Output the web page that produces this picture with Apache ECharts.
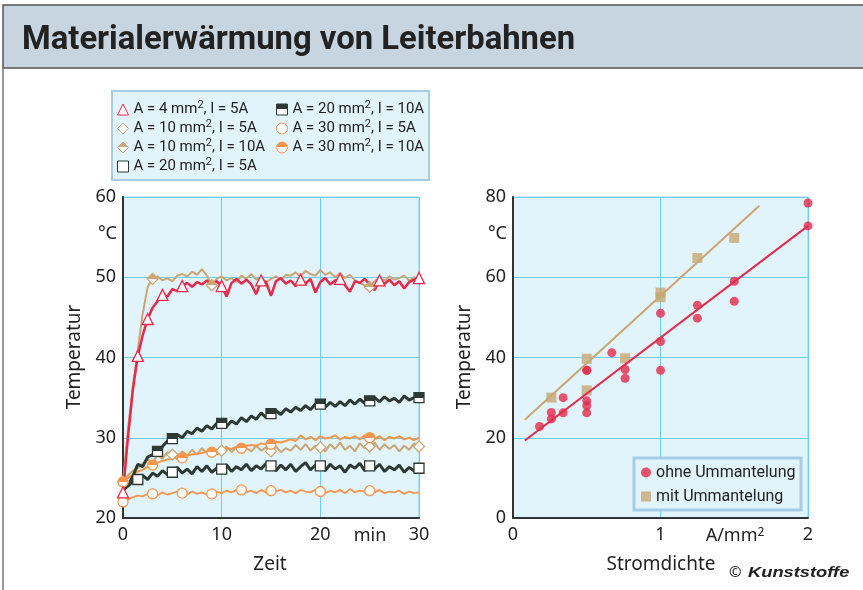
<!DOCTYPE html>
<html><head><meta charset="utf-8">
<script src="https://cdn.jsdelivr.net/npm/echarts@6/dist/echarts.min.js"></script>
<style>html,body{margin:0;padding:0;background:#fff}#c{width:863px;height:590px}</style>
</head><body><div id="c"></div>
<script>
// ---------- data: left chart (time in min, temperature in °C) ----------
const times = [0,0.5,1,1.5,2,2.5,3,3.5,4,4.5,5,5.5,6,6.5,7,7.5,8,8.5,9,9.5,10,10.5,11,11.5,12,12.5,13,13.5,14,14.5,15,15.5,16,16.5,17,17.5,18,18.5,19,19.5,20,20.5,21,21.5,22,22.5,23,23.5,24,24.5,25,25.5,26,26.5,27,27.5,28,28.5,29,29.5,30];

const tA4I5 = [23.2,30.0,36.0,40.2,42.8,44.8,46.2,47.0,47.8,47.6,48.5,48.3,48.9,49.3,48.8,49.4,49.1,49.6,49.0,49.5,48.9,47.6,49.3,49.8,49.2,49.7,49.1,47.9,49.6,49.4,47.7,49.5,49.9,49.2,49.6,48.9,49.7,49.2,49.8,48.1,49.4,49.9,49.1,49.6,49.8,49.0,48.2,49.5,49.3,49.8,49.1,48.4,49.6,49.2,49.7,49.0,49.5,48.6,49.4,49.7,49.9];
const mA4I5 = [0,1.5,2.5,4,6,10,14,18,22,26,30];

const tA10I5 = [24.5,25.3,25.9,26.2,26.8,27.3,26.9,27.8,27.4,28.2,27.9,27.3,28.3,27.8,28.5,27.9,28.7,28.1,28.6,27.9,28.4,28.9,28.2,28.8,28.1,28.7,28.3,29.0,28.4,28.8,28.3,28.9,28.2,28.7,28.4,29.1,28.5,29.2,28.4,29.0,28.8,28.3,29.2,28.6,29.4,28.5,29.0,28.3,29.3,28.7,28.9,29.4,28.5,29.2,28.6,29.1,28.3,29.0,28.5,29.3,28.9];
const mA10I5 = [5,10,15,20,25,30];

const tA10I10 = [24.5,31.0,36.5,41.0,45.5,48.8,49.8,50.1,49.6,49.9,49.5,50.2,50.4,50.1,50.7,50.3,51.0,50.2,49.0,49.8,50.1,49.6,49.9,49.4,50.2,49.8,50.4,49.7,50.0,49.4,49.8,50.1,49.7,50.3,50.2,50.6,50.1,50.8,50.4,50.2,50.9,50.3,50.6,50.0,50.5,49.9,50.3,49.6,49.3,49.0,48.8,49.5,50.0,49.6,50.1,49.7,49.9,50.2,49.6,50.0,49.8];
const mA10I10 = [0,3,9,25];

const tA20I5 = [23.5,24.0,24.5,24.8,25.3,24.8,25.6,25.2,25.9,25.4,25.7,26.3,25.6,26.1,25.5,26.4,25.8,26.5,25.7,26.2,26.1,26.6,25.8,26.4,26.0,26.7,25.9,26.5,26.1,26.8,26.5,25.9,26.6,26.0,26.7,25.8,26.4,26.9,26.0,26.6,26.5,25.9,26.7,26.1,26.5,25.7,26.6,26.2,26.8,25.9,26.5,26.1,26.7,25.8,26.4,26.0,26.6,25.7,26.3,25.9,26.2];
const mA20I5 = [1.5,5,10,15,20,25,30];

const tA20I10 = [23.5,24.0,25.2,26.7,26.4,27.6,27.9,28.3,28.9,29.6,29.9,30.4,30.0,30.8,30.5,31.2,30.8,31.5,31.1,31.8,31.8,31.4,32.1,31.7,32.5,32.0,32.7,32.3,33.1,32.5,33.0,33.4,32.9,33.6,33.2,33.8,33.4,34.0,33.5,34.2,34.2,33.8,34.4,33.9,34.5,34.0,34.7,34.2,34.8,34.3,34.6,35.0,34.5,35.1,34.6,34.9,34.4,35.2,34.7,35.0,35.0];
const mA20I10 = [3.5,5,10,15,20,25,30];

const tA30I5 = [22.0,22.3,22.6,22.8,22.7,23.0,23.0,22.8,23.2,22.9,23.1,23.3,23.1,22.9,23.3,23.0,23.2,22.9,23.0,23.3,23.1,23.4,23.2,23.5,23.5,23.2,23.4,23.1,23.5,23.2,23.4,23.3,23.5,23.2,23.4,23.1,23.5,23.3,23.2,23.5,23.3,23.1,23.4,23.2,23.5,23.1,23.6,23.2,23.4,23.3,23.4,23.2,23.5,23.1,23.3,23.2,23.4,23.0,23.3,23.1,23.2];
const mA30I5 = [0,3,6,9,12,15,20,25];

const tA30I10 = [24.5,25.0,25.4,25.8,26.0,26.4,26.6,26.9,27.1,27.3,27.4,27.6,27.5,27.8,27.9,28.0,28.1,28.3,28.2,28.5,28.6,28.7,28.6,28.9,28.7,29.0,29.1,29.0,29.3,29.2,29.2,29.5,29.4,29.6,29.8,29.6,30.3,29.8,30.1,29.7,30.2,29.9,30.0,30.3,29.8,30.1,29.9,30.2,29.8,30.3,30.0,29.8,30.2,29.7,30.1,29.9,30.2,29.8,30.0,29.7,30.0];
const mA30I10 = [0,3,6,9,12,15,25];

// ---------- data: right chart (current density A/mm², temperature °C) ----------
const ohneX = [0.18,0.26,0.26,0.34,0.34,0.5,0.5,0.5,0.5,0.5,0.67,0.76,0.76,1.0,1.0,1.0,1.25,1.25,1.5,1.5,2.0,2.0];
const ohneY = [22.8,24.7,26.3,26.2,30.0,26.2,28.0,29.2,36.8,36.8,41.2,37.0,34.8,36.8,44.0,51.0,49.8,53.0,54.0,59.0,72.8,78.5];
const mitX = [0.26,0.5,0.5,0.76,1.0,1.0,1.25,1.5];
const mitY = [30.0,31.8,39.7,39.8,55.0,56.2,64.8,69.8];
const ohneFit = [[0.08,19.3],[2.0,72.8]];
const mitFit = [[0.08,24.5],[1.67,77.8]];

// ---------- tick labels / names ----------
const leftXTicks = [0,10,20,30];
const leftYTicks = [20,30,40,50,60];
const rightXTicks = [0,1,2];
const rightYTicks = [0,20,40,60,80];
const names = ['A = 4 mm², I = 5A','A = 10 mm², I = 5A','A = 10 mm², I = 10A','A = 20 mm², I = 5A','A = 20 mm², I = 10A','A = 30 mm², I = 5A','A = 30 mm², I = 10A'];

const RED = '#e6294b', TAN = '#c9a673', DARK = '#2d3a33', ORANGE = '#f5964f';
const FONT = '"Noto Sans", sans-serif';
const NARROW = '"Roboto", sans-serif';

function half(c){
  return {type:'linear',x:0,y:0,x2:0,y2:1,colorStops:[{offset:0,color:c},{offset:0.5,color:c},{offset:0.5,color:'#fff'},{offset:1,color:'#fff'}]};
}
function lineData(vals, marks){
  return times.map((t,i)=> marks.indexOf(t) >= 0 ? {value:[t, vals[i]]} : {value:[t, vals[i]], symbol:'none'});
}
function lineSeries(name, vals, marks, color, sym, fill, size, width){
  return {
    name, type:'line', xAxisIndex:0, yAxisIndex:0,
    data: lineData(vals, marks),
    symbol: sym, symbolSize: size, showAllSymbol: true,
    lineStyle:{color, width},
    itemStyle:{color: fill, borderColor: color, borderWidth: 1.3},
    emphasis:{disabled:true}, animation:false
  };
}

const chart = echarts.init(document.getElementById('c'), null, {renderer:'canvas'});

const legendText = {
  fontFamily: NARROW, fontSize: 15, color:'#222', lineHeight: 19,
  rich: { s: { fontFamily: NARROW, fontSize: 11, lineHeight: 11, verticalAlign: 'top', color:'#222' } }
};
const legendFmt = n => n.replace('²', '{s|2}');

const axisLab = {fontFamily: FONT, fontSize: 18, color:'#222'};
const TXT = '19px "Noto Sans", sans-serif';

const option = {
  animation:false,
  backgroundColor:'#fff',
  grid:[
    {left:123, top:197, width:296, height:321, show:true, backgroundColor:'#e1f3fb', borderColor:'#8fd4f2', borderWidth:1},
    {left:513, top:197, width:295, height:321, show:true, backgroundColor:'#e1f3fb', borderColor:'#8fd4f2', borderWidth:1}
  ],
  xAxis:[
    {gridIndex:0, type:'value', min:0, max:30, interval:10,
     axisLine:{show:true, onZero:false, lineStyle:{color:'#333', width:2}}, axisTick:{show:false},
     axisLabel:Object.assign({margin:8, formatter:v=>leftXTicks.indexOf(v)>=0?String(v):''}, axisLab),
     splitLine:{show:true, lineStyle:{color:'#6fcdf0', width:1}}},
    {gridIndex:1, type:'value', min:0, max:2, interval:1,
     axisLine:{show:true, onZero:false, lineStyle:{color:'#333', width:2}}, axisTick:{show:false},
     axisLabel:Object.assign({margin:8, formatter:v=>rightXTicks.indexOf(v)>=0?String(v):''}, axisLab),
     splitLine:{show:true, lineStyle:{color:'#6fcdf0', width:1}}}
  ],
  yAxis:[
    {gridIndex:0, type:'value', min:20, max:60, interval:10,
     axisLine:{show:true, onZero:false, lineStyle:{color:'#333', width:2}}, axisTick:{show:false},
     axisLabel:Object.assign({margin:7, formatter:v=>leftYTicks.indexOf(v)>=0?String(v):''}, axisLab),
     splitLine:{show:true, lineStyle:{color:'#6fcdf0', width:1}}},
    {gridIndex:1, type:'value', min:0, max:80, interval:20,
     axisLine:{show:true, onZero:false, lineStyle:{color:'#333', width:2}}, axisTick:{show:false},
     axisLabel:Object.assign({margin:7, formatter:v=>rightYTicks.indexOf(v)>=0?String(v):''}, axisLab),
     splitLine:{show:true, lineStyle:{color:'#6fcdf0', width:1}}}
  ],
  legend:[
    {left:117, top:100, orient:'vertical', itemGap:0, itemWidth:11, itemHeight:11, z:6,
     selectedMode:false, formatter:legendFmt, textStyle:legendText, padding:0, itemStyle:{borderWidth:1},
     data:[{name:names[0], icon:'triangle'},{name:names[1], icon:'diamond'},{name:names[2], icon:'diamond'},{name:names[3], icon:'rect'}]},
    {left:276, top:100, orient:'vertical', itemGap:0, itemWidth:11, itemHeight:11, z:6,
     selectedMode:false, formatter:legendFmt, textStyle:legendText, padding:0, itemStyle:{borderWidth:1},
     data:[{name:names[4], icon:'rect'},{name:names[5], icon:'circle'},{name:names[6], icon:'circle'}]},
    {left:641, top:462, orient:'vertical', itemGap:3, itemWidth:10, itemHeight:10, z:6,
     selectedMode:false, padding:0,
     textStyle:{fontFamily: NARROW, fontSize:16, color:'#222', lineHeight:21},
     data:[{name:'ohne Ummantelung', icon:'circle'},{name:'mit Ummantelung', icon:'rect'}]}
  ],
  graphic:[
    {type:'rect', z:0, shape:{x:3, y:5, width:862, height:63}, style:{fill:'#c7d5e0', stroke:'#555', lineWidth:1.5}},
    {type:'line', z:0, shape:{x1:3, y1:68, x2:3, y2:592}, style:{stroke:'#777', lineWidth:1.5}},
    {type:'text', z:1, x:22, y:40, scaleX:0.965, originX:0, originY:0, style:{text:'Materialerwärmung von Leiterbahnen', font:'bold 34px "Roboto", sans-serif', fill:'#222', verticalAlign:'middle'}},
    {type:'rect', z:3, shape:{x:112, y:91, width:317, height:89}, style:{fill:'#e1f3fb', stroke:'#a8cbe6', lineWidth:2}},
    {type:'rect', z:3, shape:{x:634, y:458, width:167, height:52}, style:{fill:'#e1f3fb', stroke:'#a8cbe6', lineWidth:3}},
    {type:'text', z:3, x:117, y:234, style:{text:'°C', font:'18px "Noto Sans", sans-serif', fill:'#222', align:'right', verticalAlign:'middle'}},
    {type:'text', z:3, x:507, y:234, style:{text:'°C', font:'18px "Noto Sans", sans-serif', fill:'#222', align:'right', verticalAlign:'middle'}},
    {type:'text', z:3, x:370, y:536, style:{text:'min', font:'18px "Noto Sans", sans-serif', fill:'#222', align:'center', verticalAlign:'middle'}},
    {type:'text', z:3, x:735, y:536, style:{text:'A/mm{s|2}', font:'18px "Noto Sans", sans-serif', fill:'#222', align:'center', verticalAlign:'middle',
      rich:{s:{fontSize:12, lineHeight:12, verticalAlign:'top', fontFamily:'Noto Sans', fill:'#222'}}}},
    {type:'text', z:3, x:270, y:565, style:{text:'Zeit', font:TXT, fill:'#222', align:'center', verticalAlign:'middle'}},
    {type:'text', z:3, x:661, y:565, style:{text:'Stromdichte', font:TXT, fill:'#222', align:'center', verticalAlign:'middle'}},
    {type:'text', z:3, x:75, y:357, rotation:Math.PI/2, style:{text:'Temperatur', font:TXT, fill:'#222', align:'center', verticalAlign:'middle'}},
    {type:'text', z:3, x:465, y:357, rotation:Math.PI/2, style:{text:'Temperatur', font:TXT, fill:'#222', align:'center', verticalAlign:'middle'}},
    {type:'text', z:3, x:729, y:573, style:{text:'©', font:'15px "Noto Sans", sans-serif', fill:'#222', verticalAlign:'middle'}},
    {type:'text', z:3, x:748, y:573, scaleX:1.22, originX:0, originY:0, style:{text:'Kunststoffe', font:'italic bold 15px "Liberation Sans", sans-serif', fill:'#222', verticalAlign:'middle'}}
  ],
  series:[
    lineSeries(names[1], tA10I5, mA10I5, TAN, 'diamond', '#fff', 11, 2),
    lineSeries(names[2], tA10I10, mA10I10, TAN, 'diamond', half(TAN), 11, 2),
    lineSeries(names[5], tA30I5, mA30I5, ORANGE, 'circle', '#fff', 10, 1.8),
    lineSeries(names[3], tA20I5, mA20I5, DARK, 'rect', '#fff', 10, 3),
    lineSeries(names[6], tA30I10, mA30I10, ORANGE, 'circle', half(ORANGE), 10, 2),
    lineSeries(names[4], tA20I10, mA20I10, DARK, 'rect', half(DARK), 10, 3),
    lineSeries(names[0], tA4I5, mA4I5, RED, 'triangle', '#fff', 11, 2.5),
    {name:'mitFit', type:'line', xAxisIndex:1, yAxisIndex:1, data:mitFit, symbol:'none', lineStyle:{color:TAN, width:2}, silent:true},
    {name:'ohneFit', type:'line', xAxisIndex:1, yAxisIndex:1, data:ohneFit, symbol:'none', lineStyle:{color:RED, width:2}, silent:true},
    {name:'mit Ummantelung', type:'scatter', xAxisIndex:1, yAxisIndex:1, symbol:'rect', symbolSize:10,
     data: mitX.map((x,i)=>[x, mitY[i]]), itemStyle:{color:TAN}},
    {name:'ohne Ummantelung', type:'scatter', xAxisIndex:1, yAxisIndex:1, symbol:'circle', symbolSize:9,
     data: ohneX.map((x,i)=>[x, ohneY[i]]), itemStyle:{color:RED}}
  ]
};
chart.setOption(option);
</script></body></html>
